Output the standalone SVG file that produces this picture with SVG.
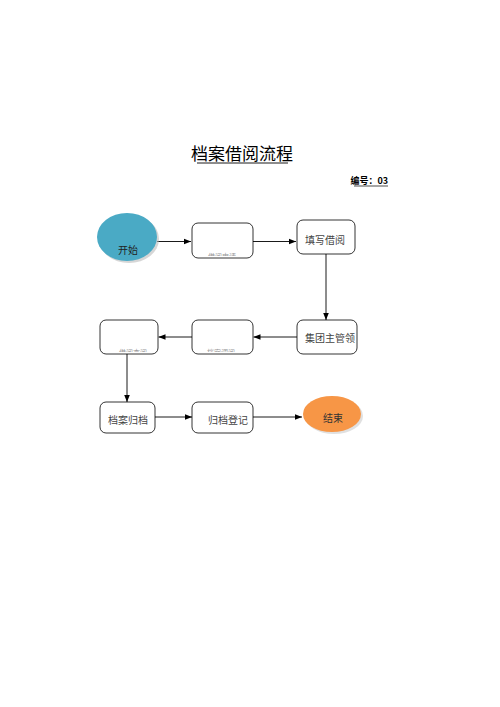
<svg xmlns="http://www.w3.org/2000/svg" width="500" height="707" viewBox="0 0 500 707">
<style>
.box{fill:#fff;stroke:#000;stroke-width:0.8}
.t{font-family:"Noto Sans CJK SC","Noto Serif CJK SC",serif;font-size:10px;fill:#444}
.s{font-family:"Noto Sans CJK SC",sans-serif;font-size:7px;fill:#999}
.c{stroke:#000;stroke-width:0.9;fill:none;marker-end:url(#ah)}
</style>
<defs>
<marker id="ah" viewBox="0 0 10 10" refX="10" refY="5" markerWidth="7" markerHeight="7" markerUnits="userSpaceOnUse" orient="auto"><path d="M0,1 L10,5 L0,9 z" fill="#000"/></marker>
<clipPath id="c2"><rect x="193" y="224" width="59" height="32"/></clipPath>
<clipPath id="c5"><rect x="193" y="321" width="59" height="31"/></clipPath>
<clipPath id="c6"><rect x="101" y="321" width="56" height="31"/></clipPath>
</defs>
<rect width="500" height="707" fill="#fff"/>
<g id="title">
<text x="242" y="160" text-anchor="middle" font-family="Noto Sans CJK SC,serif" font-size="17" fill="#000">档案借阅流程</text>
<line x1="197" y1="163" x2="288" y2="163" stroke="#000" stroke-width="0.9"/>
<text x="388" y="184" text-anchor="end" font-family="Noto Sans CJK SC,sans-serif" font-size="9" font-weight="bold" fill="#000">编号：03</text>
<line x1="354" y1="186" x2="388" y2="186" stroke="#000" stroke-width="0.7"/>
</g>
<g id="connectors">
<line class="c" x1="157" y1="241.5" x2="191" y2="241.5"/>
<line class="c" x1="253" y1="241.5" x2="296" y2="241.5"/>
<line class="c" x1="326" y1="254" x2="326" y2="320"/>
<line class="c" x1="297" y1="337" x2="253.5" y2="337"/>
<line class="c" x1="192" y1="337" x2="158.5" y2="337"/>
<line class="c" x1="127" y1="354" x2="127" y2="402"/>
<line class="c" x1="155" y1="417" x2="192" y2="417"/>
<line class="c" x1="253" y1="417" x2="302" y2="417"/>
</g>
<g id="start">
<ellipse cx="129" cy="239" rx="30" ry="24" fill="#bbb" opacity="0.6"/>
<ellipse cx="127" cy="237" rx="30" ry="24" fill="#4aaac5"/>
<text class="t" x="128" y="254" text-anchor="middle" style="fill:#222">开始</text>
</g>
<g id="n2">
<rect class="box" x="192" y="223" width="61" height="35" rx="6"/>
<text class="s" x="222" y="259" text-anchor="middle" clip-path="url(#c2)">借阅申请</text>
</g>
<g id="n3">
<rect class="box" x="297" y="220" width="58" height="34" rx="6"/>
<text class="t" x="305" y="244">填写借阅</text>
</g>
<g id="n4">
<rect class="box" x="297" y="320" width="60" height="34" rx="6"/>
<text class="t" x="305" y="342">集团主管领</text>
</g>
<g id="n5">
<rect class="box" x="192" y="320" width="61" height="34" rx="6"/>
<text class="s" x="221" y="355" text-anchor="middle" clip-path="url(#c5)">档案调阅</text>
</g>
<g id="n6">
<rect class="box" x="100" y="320" width="58" height="34" rx="6"/>
<text class="s" x="133" y="355" text-anchor="middle" clip-path="url(#c6)">借阅查阅</text>
</g>
<g id="n7">
<rect class="box" x="100" y="402" width="55" height="31" rx="6"/>
<text class="t" x="108" y="424">档案归档</text>
</g>
<g id="n8">
<rect class="box" x="192" y="402" width="61" height="31" rx="6"/>
<text class="t" x="208" y="424">归档登记</text>
</g>
<g id="end">
<ellipse cx="334" cy="416" rx="29" ry="18" fill="#ccc" opacity="0.6"/>
<ellipse cx="332" cy="414" rx="29" ry="18" fill="#f79646"/>
<text class="t" x="333" y="422" text-anchor="middle" style="fill:#333">结束</text>
</g>
</svg>
